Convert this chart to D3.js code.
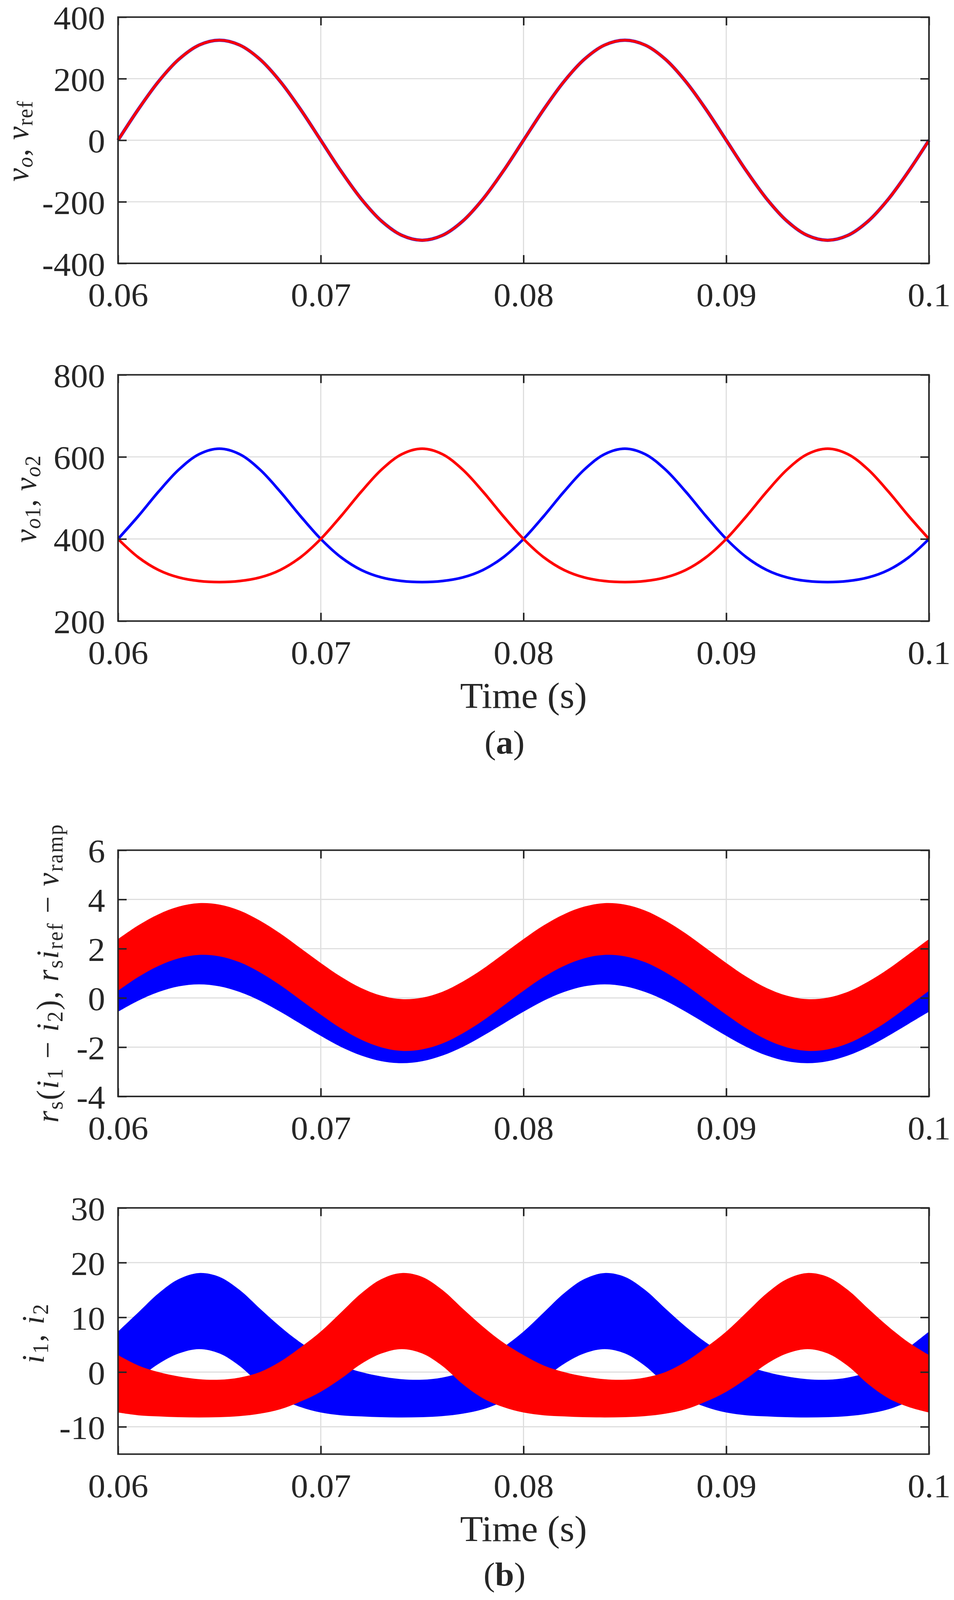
<!DOCTYPE html>
<html><head><meta charset="utf-8">
<script src="https://cdn.jsdelivr.net/npm/d3@7"></script>
<style>
html,body{margin:0;padding:0;background:#fff;overflow:hidden;width:100%;height:100%}
svg{display:block;width:100vw;height:100vh}
text{font-family:"Liberation Serif","Times New Roman",serif;fill:#262626}
</style></head>
<body><svg id="c" viewBox="0 0 2441 4256" preserveAspectRatio="none"></svg>
<script>
// ---------------- data ----------------
const timeS = [0.060,0.061,0.062,0.063,0.064,0.065,0.066,0.067,0.068,0.069,
               0.070,0.071,0.072,0.073,0.074,0.075,0.076,0.077,0.078,0.079,
               0.080,0.081,0.082,0.083,0.084,0.085,0.086,0.087,0.088,0.089,
               0.090,0.091,0.092,0.093,0.094,0.095,0.096,0.097,0.098,0.099,0.100];
const xTickValues = [0.06,0.07,0.08,0.09,0.1];
const xTickLabels = ["0.06","0.07","0.08","0.09","0.1"];

// (a) top: v_o (blue) and v_ref (red)
const vo   = [0,100.4,191.0,262.9,309.1,325.0,309.1,262.9,191.0,100.4,0,-100.4,-191.0,-262.9,-309.1,-325.0,-309.1,-262.9,-191.0,-100.4,
              0,100.4,191.0,262.9,309.1,325.0,309.1,262.9,191.0,100.4,0,-100.4,-191.0,-262.9,-309.1,-325.0,-309.1,-262.9,-191.0,-100.4,0];
const vref = [0,100.4,191.0,262.9,309.1,325.0,309.1,262.9,191.0,100.4,0,-100.4,-191.0,-262.9,-309.1,-325.0,-309.1,-262.9,-191.0,-100.4,
              0,100.4,191.0,262.9,309.1,325.0,309.1,262.9,191.0,100.4,0,-100.4,-191.0,-262.9,-309.1,-325.0,-309.1,-262.9,-191.0,-100.4,0];
const yTicks1 = [-400,-200,0,200,400];

// (a) bottom: v_o1 (blue), v_o2 (red)
const vo1 = [400.0,455.7,515.4,569.1,606.6,620.0,606.6,569.1,515.4,455.7,400.0,355.3,324.4,306.2,297.5,295.0,297.5,306.2,324.4,355.3,
             400.0,455.7,515.4,569.1,606.6,620.0,606.6,569.1,515.4,455.7,400.0,355.3,324.4,306.2,297.5,295.0,297.5,306.2,324.4,355.3,400.0];
const vo2 = [400.0,355.3,324.4,306.2,297.5,295.0,297.5,306.2,324.4,355.3,400.0,455.7,515.4,569.1,606.6,620.0,606.6,569.1,515.4,455.7,
             400.0,355.3,324.4,306.2,297.5,295.0,297.5,306.2,324.4,355.3,400.0,455.7,515.4,569.1,606.6,620.0,606.6,569.1,515.4,455.7,400.0];
const yTicks2 = [200,400,600,800];

// (b) top: envelopes of r_s(i1-i2) (blue) and r_s i_ref - v_ramp (red)
const rampUpper = [2.39,2.95,3.40,3.71,3.85,3.79,3.55,3.14,2.62,2.02,1.42,0.86,0.40,0.09,-0.05,0.01,0.25,0.66,1.18,1.78,
                   2.39,2.95,3.40,3.71,3.85,3.79,3.55,3.14,2.62,2.02,1.42,0.86,0.40,0.09,-0.05,0.01,0.25,0.66,1.18,1.78,2.39];
const rampLower = [0.29,0.85,1.30,1.61,1.75,1.69,1.45,1.04,0.52,-0.08,-0.68,-1.24,-1.70,-2.01,-2.15,-2.09,-1.85,-1.44,-0.92,-0.32,
                   0.29,0.85,1.30,1.61,1.75,1.69,1.45,1.04,0.52,-0.08,-0.68,-1.24,-1.70,-2.01,-2.15,-2.09,-1.85,-1.44,-0.92,-0.32,0.29];
const diffUpper = [0.89,1.45,1.90,2.21,2.35,2.29,2.05,1.64,1.12,0.52,-0.08,-0.64,-1.10,-1.41,-1.55,-1.49,-1.25,-0.84,-0.32,0.28,
                   0.89,1.45,1.90,2.21,2.35,2.29,2.05,1.64,1.12,0.52,-0.08,-0.64,-1.10,-1.41,-1.55,-1.49,-1.25,-0.84,-0.32,0.28,0.89];
const diffLower = [-0.56,-0.11,0.24,0.47,0.55,0.47,0.24,-0.11,-0.56,-1.05,-1.54,-1.99,-2.34,-2.57,-2.65,-2.57,-2.34,-1.99,-1.54,-1.05,
                   -0.56,-0.11,0.24,0.47,0.55,0.47,0.24,-0.11,-0.56,-1.05,-1.54,-1.99,-2.34,-2.57,-2.65,-2.57,-2.34,-1.99,-1.54,-1.05,-0.56];
const yTicks3 = [-4,-2,0,2,4,6];

// (b) bottom: envelopes of i1 (blue) and i2 (red)
const i1Upper = [7.4,10.9,14.4,17.0,18.1,17.4,15.0,11.6,8.3,5.4,3.1,1.2,0.0,-0.8,-1.3,-1.4,-1.0,0.0,1.9,4.5,
                 7.4,10.9,14.4,17.0,18.1,17.4,15.0,11.6,8.3,5.4,3.1,1.2,0.0,-0.8,-1.3,-1.4,-1.0,0.0,1.9,4.5,7.4];
const i1Lower = [-3.6,-1.2,1.5,3.4,4.2,3.4,1.1,-2.2,-4.8,-6.4,-7.4,-7.9,-8.1,-8.25,-8.3,-8.25,-8.05,-7.6,-6.8,-5.4,
                 -3.6,-1.2,1.5,3.4,4.2,3.4,1.1,-2.2,-4.8,-6.4,-7.4,-7.9,-8.1,-8.25,-8.3,-8.25,-8.05,-7.6,-6.8,-5.4,-3.6];
const i2Upper = [3.1,1.2,0.0,-0.8,-1.3,-1.4,-1.0,0.0,1.9,4.5,7.4,10.9,14.4,17.0,18.1,17.4,15.0,11.6,8.3,5.4,
                 3.1,1.2,0.0,-0.8,-1.3,-1.4,-1.0,0.0,1.9,4.5,7.4,10.9,14.4,17.0,18.1,17.4,15.0,11.6,8.3,5.4,3.1];
const i2Lower = [-7.4,-7.9,-8.1,-8.25,-8.3,-8.25,-8.05,-7.6,-6.8,-5.4,-3.6,-1.2,1.5,3.4,4.2,3.4,1.1,-2.2,-4.8,-6.4,
                 -7.4,-7.9,-8.1,-8.25,-8.3,-8.25,-8.05,-7.6,-6.8,-5.4,-3.6,-1.2,1.5,3.4,4.2,3.4,1.1,-2.2,-4.8,-6.4,-7.4];
const yTicks4 = [-10,0,10,20,30];

// ---------------- drawing ----------------
const W = 2441, H = 4256;
const svg = d3.select('#c');
svg.append('rect').attr('width', W).attr('height', H).attr('fill', '#fff');

const AX = '#262626', GRID = '#dedede', BLUE = '#0000ff', RED = '#ff0000';
const X0 = 302, X1 = 2377, PH = 655, TICK = 22, FS = 88;
const x = d3.scaleLinear().domain([0.06, 0.1]).range([X0, X1]);

function styleAxis(g, showText) {
  g.select('.domain').remove();
  g.attr('font-family', '"Liberation Serif","Times New Roman",serif').attr('font-size', FS);
  g.selectAll('.tick line').attr('stroke', AX).attr('stroke-width', 4);
  if (!showText) g.selectAll('.tick text').remove();
  else g.selectAll('.tick text').attr('fill', AX);
}

function panel(id, top, yDomain, yTickVals, draw) {
  const y = d3.scaleLinear().domain(yDomain).range([top + PH, top]);
  const g = svg.append('g');
  g.append('clipPath').attr('id', 'clip' + id).append('rect')
    .attr('x', X0 - 3).attr('y', top - 3).attr('width', X1 - X0 + 6).attr('height', PH + 6);
  // grid
  g.append('g').selectAll('line').data(xTickValues).join('line')
    .attr('x1', d => x(d)).attr('x2', d => x(d)).attr('y1', top).attr('y2', top + PH)
    .attr('stroke', GRID).attr('stroke-width', 3);
  g.append('g').selectAll('line').data(yTickVals).join('line')
    .attr('x1', X0).attr('x2', X1).attr('y1', d => y(d)).attr('y2', d => y(d))
    .attr('stroke', GRID).attr('stroke-width', 3);
  // data
  const dg = g.append('g').attr('clip-path', `url(#clip${id})`);
  draw(dg, y);
  // axes
  const left = g.append('g').attr('transform', `translate(${X0},0)`)
    .call(d3.axisLeft(y).tickValues(yTickVals).tickFormat(d => String(d)).tickSize(-TICK).tickPadding(33));
  styleAxis(left, true);
  left.selectAll('.tick text').attr('dy', '0.365em');
  const right = g.append('g').attr('transform', `translate(${X1},0)`)
    .call(d3.axisRight(y).tickValues(yTickVals).tickSize(-TICK));
  styleAxis(right, false);
  const bottom = g.append('g').attr('transform', `translate(0,${top + PH})`)
    .call(d3.axisBottom(x).tickValues(xTickValues).tickFormat((d, i) => xTickLabels[i]).tickSize(-TICK).tickPadding(52));
  styleAxis(bottom, true);
  const topAx = g.append('g').attr('transform', `translate(0,${top})`)
    .call(d3.axisTop(x).tickValues(xTickValues).tickSize(-TICK));
  styleAxis(topAx, false);
  g.append('rect').attr('x', X0).attr('y', top).attr('width', X1 - X0).attr('height', PH)
    .attr('fill', 'none').attr('stroke', AX).attr('stroke-width', 4);
  return y;
}

function lineOf(y, vals) {
  return d3.line().x((d, i) => x(timeS[i])).y(d => y(d)).curve(d3.curveCatmullRom)(vals);
}
function bandOf(y, upper, lower) {
  return d3.area().x((d, i) => x(timeS[i])).y1(d => y(d)).y0((d, i) => y(lower[i])).curve(d3.curveCatmullRom)(upper);
}

function mathLabel(cx, cy, segs, target) {
  const F = 80, S = 56, SH = 11;
  const t = svg.append('text')
    .attr('transform', `translate(${cx},${cy}) rotate(-90)`)
    .attr('text-anchor', 'middle').attr('font-size', F).style('white-space', 'pre');
  let cur = 0;
  segs.forEach(s => {
    const want = s.sub ? SH : 0;
    t.append('tspan').attr('dy', want - cur).attr('font-size', s.sub ? S : F)
      .attr('font-style', s.it ? 'italic' : 'normal').text(s.t);
    cur = want;
  });
  const L = t.node().getComputedTextLength();
  const n = segs.map(s => s.t).join('').length;
  t.attr('letter-spacing', (target - L) / n);
}

// panel 1
panel(1, 45.5, [-400, 400], yTicks1, (g, y) => {
  g.append('path').attr('d', lineOf(y, vo)).attr('fill', 'none').attr('stroke', BLUE).attr('stroke-width', 8.5);
  g.append('path').attr('d', lineOf(y, vref)).attr('fill', 'none').attr('stroke', RED).attr('stroke-width', 7);
});
mathLabel(72, 375, [
  {t:'v', it:1}, {t:'o', it:1, sub:1}, {t:', '}, {t:'v', it:1}, {t:'ref', sub:1}
], 216);

// panel 2
panel(2, 997, [200, 800], yTicks2, (g, y) => {
  g.append('path').attr('d', lineOf(y, vo1)).attr('fill', 'none').attr('stroke', BLUE).attr('stroke-width', 7);
  g.append('path').attr('d', lineOf(y, vo2)).attr('fill', 'none').attr('stroke', RED).attr('stroke-width', 7);
});
mathLabel(92, 1327, [
  {t:'v', it:1}, {t:'o', it:1, sub:1}, {t:'1', sub:1}, {t:', '}, {t:'v', it:1}, {t:'o', it:1, sub:1}, {t:'2', sub:1}
], 233);

svg.append('text').attr('x', (X0 + X1) / 2).attr('y', 997 + PH + 231).attr('text-anchor', 'middle')
  .attr('font-size', 96).text('Time (s)');
const capA = svg.append('text').attr('x', 1291).attr('y', 2004).attr('text-anchor', 'middle').attr('font-size', FS);
capA.append('tspan').text('(');
capA.append('tspan').attr('font-weight', 'bold').text('a');
capA.append('tspan').text(')');

// panel 3
panel(3, 2261.5, [-4, 6], yTicks3, (g, y) => {
  g.append('path').attr('d', bandOf(y, diffUpper, diffLower)).attr('fill', BLUE);
  g.append('path').attr('d', bandOf(y, rampUpper, rampLower)).attr('fill', RED);
});
mathLabel(149, 2588, [
  {t:'r', it:1}, {t:'s', sub:1}, {t:'('}, {t:'i', it:1}, {t:'1', sub:1}, {t:' \u2212 '},
  {t:'i', it:1}, {t:'2', sub:1}, {t:'), '}, {t:'r', it:1}, {t:'s', sub:1}, {t:'i', it:1},
  {t:'ref', sub:1}, {t:' \u2212 '}, {t:'v', it:1}, {t:'ramp', sub:1}
], 796);

// panel 4
panel(4, 3213, [-15, 30], yTicks4, (g, y) => {
  g.append('path').attr('d', bandOf(y, i1Upper, i1Lower)).attr('fill', BLUE);
  g.append('path').attr('d', bandOf(y, i2Upper, i2Lower)).attr('fill', RED);
});
mathLabel(112, 3546, [
  {t:'i', it:1}, {t:'1', sub:1}, {t:', '}, {t:'i', it:1}, {t:'2', sub:1}
], 161);

svg.append('text').attr('x', (X0 + X1) / 2).attr('y', 3213 + PH + 231).attr('text-anchor', 'middle')
  .attr('font-size', 96).text('Time (s)');
const capB = svg.append('text').attr('x', 1291).attr('y', 4218).attr('text-anchor', 'middle').attr('font-size', FS);
capB.append('tspan').text('(');
capB.append('tspan').attr('font-weight', 'bold').text('b');
capB.append('tspan').text(')');
</script>
</body></html>
